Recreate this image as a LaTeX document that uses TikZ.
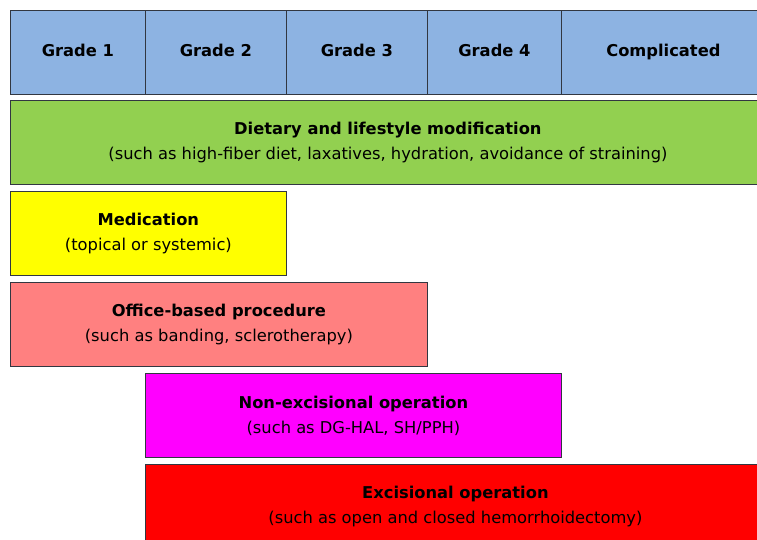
\documentclass[tikz,border=0pt]{standalone}
\usepackage{fontspec}
\setmainfont{DejaVu Sans}
\usetikzlibrary{positioning}
\definecolor{gradeblue}{RGB}{141,179,226}
\definecolor{dietgreen}{RGB}{146,208,80}
\definecolor{medyellow}{RGB}{255,255,0}
\definecolor{officered}{RGB}{255,128,128}
\definecolor{opmagenta}{RGB}{255,0,255}
\definecolor{excred}{RGB}{255,0,0}
\definecolor{edgegray}{RGB}{50,55,65}
\tikzset{cell/.style={draw=edgegray, line width=0.8pt, minimum height=84pt, inner sep=0pt,
    anchor=north west, align=center, font=\fontsize{16.3}{25}\selectfont}}

\begin{document}
\begin{tikzpicture}[x=1pt,y=-1pt]
	\useasboundingbox (0,0) rectangle (757,539);
	\clip (0,0) rectangle (757,539);

	% grades
	\foreach \xa/\xb/\name/\txt in {10/145/g1/Grade 1,145/286/g2/Grade 2,286/427/g3/Grade 3,427/561/g4/Grade 4,561/765/gc/Complicated} {
	    \node[cell, fill=gradeblue, minimum width=\xb pt-\xa pt] (\name) at (\xa,10) {\bfseries\vphantom{Gp}\txt};
	}

	% treatments
	\node[cell, fill=dietgreen, minimum width=755pt] (diet) at (10,100)
	    {{\bfseries Dietary and lifestyle modification}\\(such as high-fiber diet, laxatives, hydration, avoidance of straining)};
	\node[cell, fill=medyellow, minimum width=276pt] (med) at (10,191)
	    {{\bfseries Medication}\\(topical or systemic)};
	\node[cell, fill=officered, minimum width=417pt] (office) at (10,282)
	    {{\bfseries Office-based procedure}\\(such as banding, sclerotherapy)};
	\node[cell, fill=opmagenta, minimum width=416pt] (nonexc) at (145,373)
	    {{\bfseries Non-excisional operation}\\(such as DG-HAL, SH/PPH)};
	\node[cell, fill=excred, minimum width=620pt] (exc) at (145,464)
	    {{\bfseries Excisional operation}\\(such as open and closed hemorrhoidectomy)};
\end{tikzpicture}
\end{document}
